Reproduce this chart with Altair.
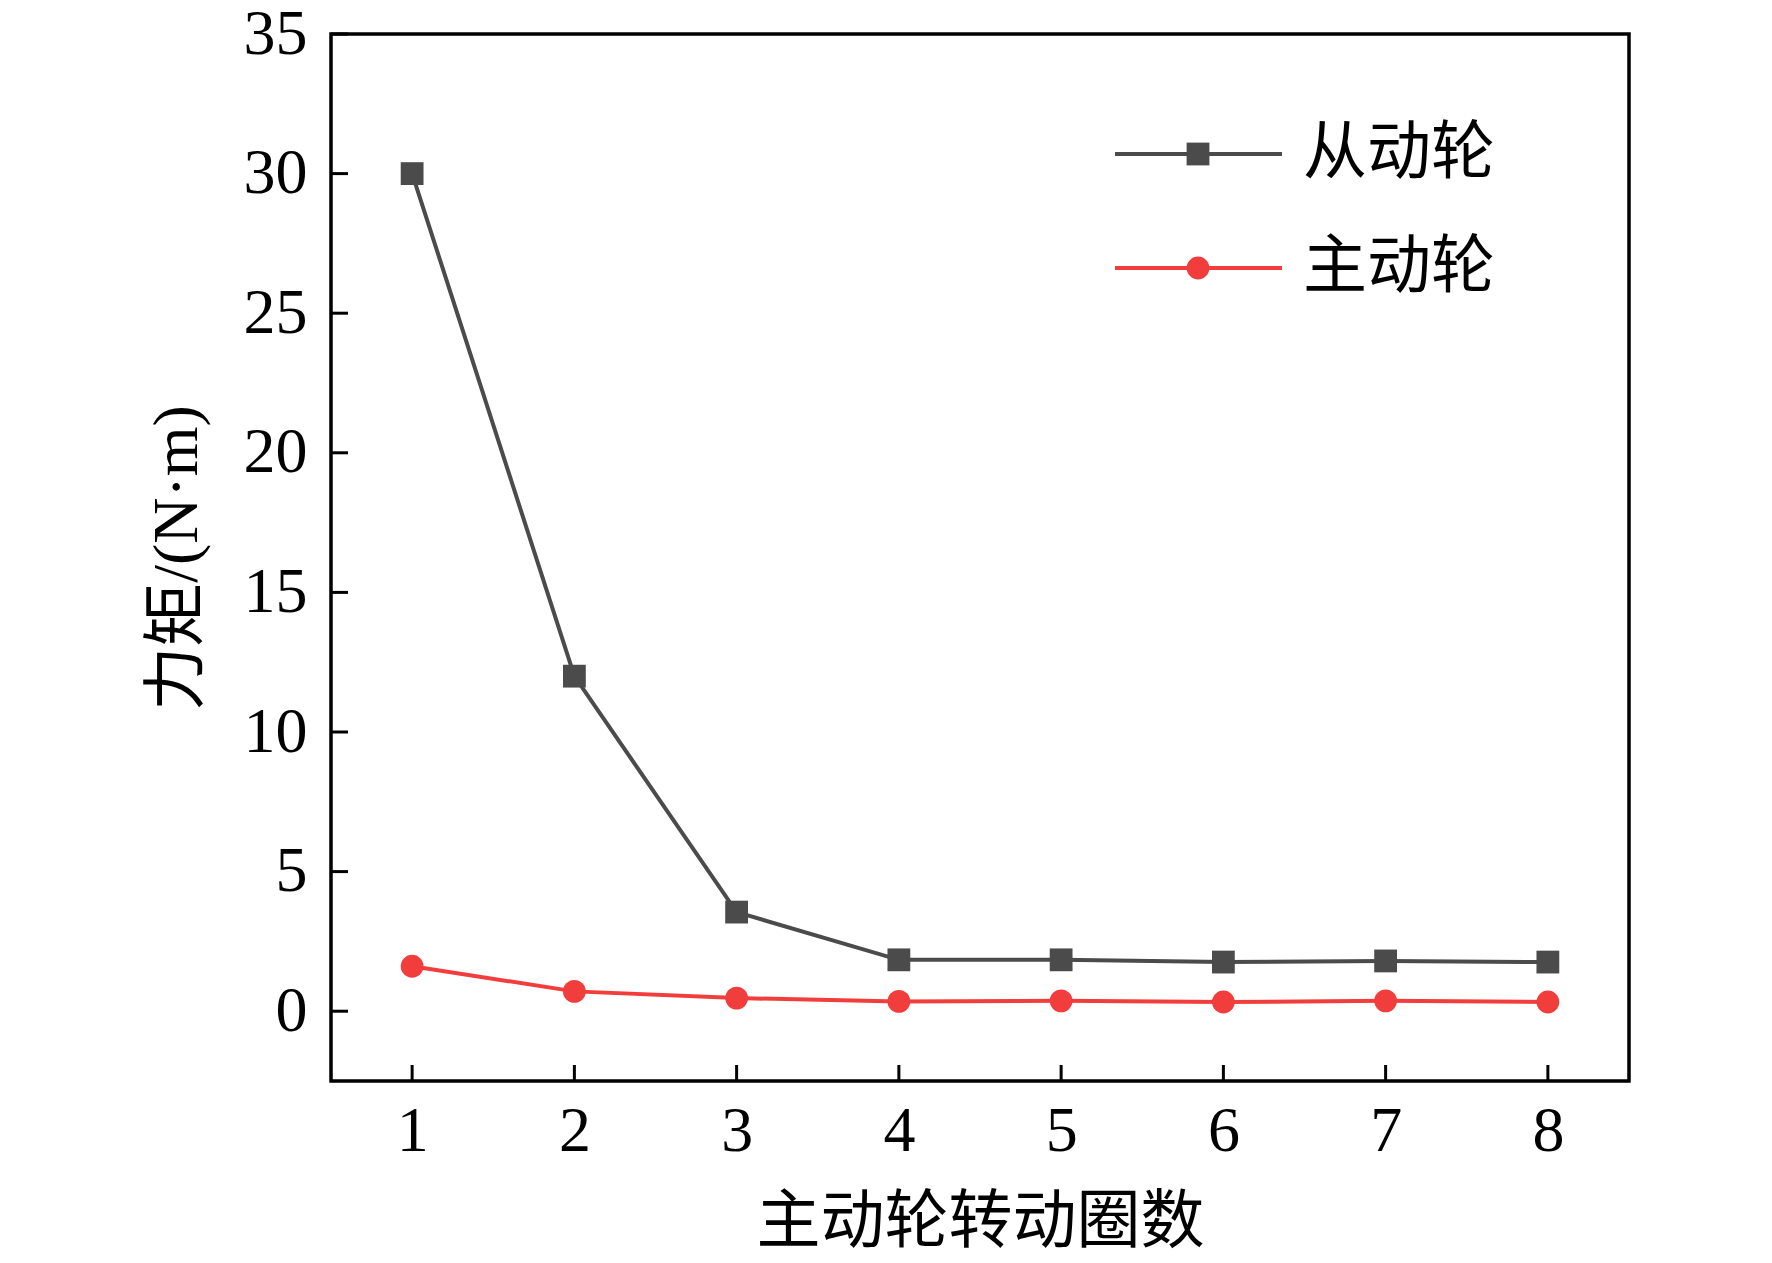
import altair as alt
import pandas as pd

turns = [1, 2, 3, 4, 5, 6, 7, 8]
driven = [30.0, 12.0, 3.55, 1.84, 1.84, 1.76, 1.80, 1.76]   # 从动轮
driving = [1.61, 0.71, 0.47, 0.35, 0.37, 0.33, 0.37, 0.33]  # 主动轮
series_names = ["从动轮", "主动轮"]
series_colors = ["#4b4b4b", "#f23d3d"]
series_shapes = ["square", "circle"]
y_ticks = [0, 5, 10, 15, 20, 25, 30, 35]

W, H = 1298, 1047
FONT = "'Liberation Serif', 'Noto Sans CJK SC'"

rows = []
for t, a, b in zip(turns, driven, driving):
    rows.append({"x": t, "y": a, "s": series_names[0]})
    rows.append({"x": t, "y": b, "s": series_names[1]})
df = pd.DataFrame(rows)

xscale = alt.Scale(domain=[0.5, 8.5], nice=False, zero=False)
yscale = alt.Scale(domain=[-2.5, 35], nice=False, zero=False)
cscale = alt.Scale(domain=series_names, range=series_colors)
sscale = alt.Scale(domain=series_names, range=series_shapes)

xaxis = alt.Axis(values=turns, format="d", title="主动轮转动圈数", labelPadding=18,
                 titleY=160, titleBaseline="alphabetic", titleFontSize=64,
                 titleFontWeight="normal")
yaxis = alt.Axis(values=y_ticks, format="d", title="力矩/(N·m)", labelPadding=24,
                 titleX=-154, titleY=H / 2, titleAngle=270, titleAlign="center",
                 titleBaseline="middle", titleFontSize=64, titleFontWeight="normal")

base = alt.Chart(df)
lines = base.mark_line(strokeWidth=4).encode(
    x=alt.X("x:Q", scale=xscale, axis=xaxis),
    y=alt.Y("y:Q", scale=yscale, axis=yaxis),
    color=alt.Color("s:N", scale=cscale, legend=None),
    detail="s:N",
)
points = base.mark_point(filled=True, size=520, opacity=1).encode(
    x=alt.X("x:Q", scale=xscale),
    y=alt.Y("y:Q", scale=yscale),
    color=alt.Color("s:N", scale=cscale, legend=None),
    shape=alt.Shape("s:N", scale=sscale, legend=None),
)

xt = alt.Chart(pd.DataFrame({"x": turns})).mark_rule(color="black", strokeWidth=3).encode(
    x=alt.X("x:Q", scale=xscale), y=alt.value(H), y2=alt.value(H - 16))
yt = alt.Chart(pd.DataFrame({"y": y_ticks})).mark_rule(color="black", strokeWidth=3).encode(
    y=alt.Y("y:Q", scale=yscale), x=alt.value(0), x2=alt.value(17))

legend_layers = []
for name, col, shp, ypix in zip(series_names, series_colors, series_shapes, [120, 234]):
    ld = pd.DataFrame({"s": [name]})
    legend_layers.append(alt.Chart(ld).mark_rule(color=col, strokeWidth=4).encode(
        x=alt.value(784), x2=alt.value(951), y=alt.value(ypix)))
    legend_layers.append(alt.Chart(ld).mark_point(shape=shp, filled=True, color=col,
                                                  size=520, opacity=1).encode(
        x=alt.value(867), y=alt.value(ypix)))
    legend_layers.append(alt.Chart(ld).mark_text(align="left", baseline="middle", font=FONT,
                                                 fontSize=64, color="black").encode(
        x=alt.value(972), y=alt.value(ypix), text="s:N"))

chart = alt.layer(lines, points, xt, yt, *legend_layers).properties(
    width=W, height=H,
    autosize=alt.AutoSizeParams(type="none"),
    padding={"left": 323, "top": 26, "right": 130, "bottom": 180},
    background="white",
).configure_view(stroke="black", strokeWidth=3.5).configure_axis(
    domain=False, ticks=False, grid=False,
    labelFont=FONT, labelFontSize=64, labelColor="black",
    titleFont=FONT, titleColor="black",
)

chart.save("out.html", embed_options={"renderer": "svg", "actions": False})
